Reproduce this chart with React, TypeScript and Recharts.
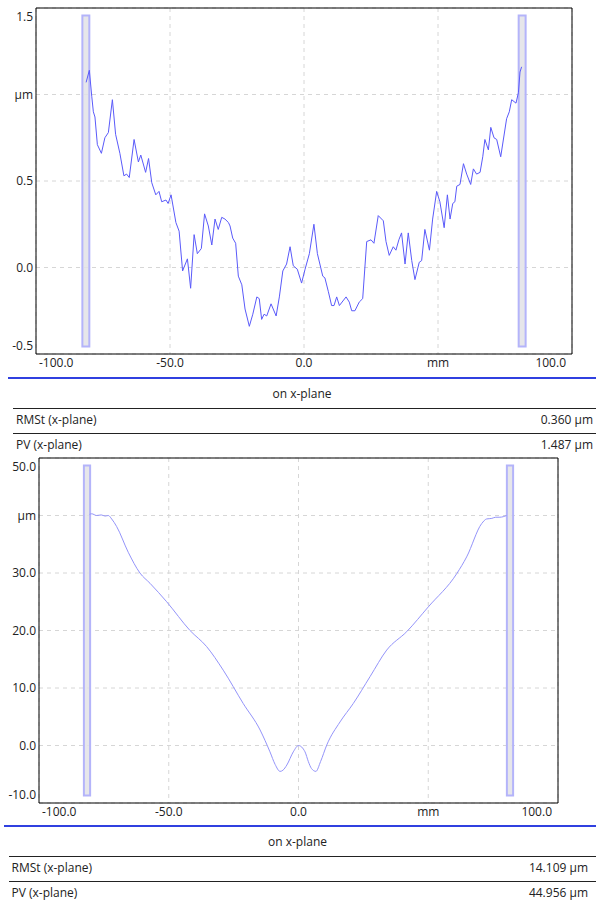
import React from "react";
import {
  LineChart,
  Line,
  XAxis,
  YAxis,
  CartesianGrid,
  ReferenceArea,
} from "recharts";

// Profil 1: straightness (µm)
const posicoes1 = [
  -81.3, -80.1, -79.2, -78.6, -78.0, -77.1, -75.6, -74.3, -73.0, -71.5, -70.3, -68.7, -67.2, -66.2, -65.2,
  -63.4, -61.8, -60.9, -59.1, -58.0, -56.8, -55.3, -54.1, -53.1, -51.5, -50.7, -49.6, -47.8, -46.6, -45.3,
  -43.5, -42.3, -41.0, -39.8, -38.3, -37.1, -35.7, -34.4, -33.2, -32.0, -30.7, -29.5, -28.2, -27.6, -26.6,
  -25.5, -24.5, -23.2, -22.0, -20.4, -19.1, -17.6, -16.7, -15.8, -14.9, -13.9, -12.3, -10.4, -9.2, -7.9,
  -6.5, -5.2, -4.0, -2.5, -0.9, 0.4, 2.0, 3.7, 5.0, 7.0, 7.8, 9.1, 10.3, 11.2, 12.2, 13.2, 15.7, 16.9, 17.8,
  19.0, 20.6, 21.9, 23.4, 25.0, 26.1, 27.7, 29.6, 30.6, 31.8, 33.3, 34.3, 35.4, 36.4, 37.7, 38.9, 40.2,
  41.4, 43.0, 43.9, 45.1, 46.8, 48.0, 49.5, 50.7, 52.3, 53.5, 54.5, 55.5, 56.3, 57.0, 58.2, 59.5, 60.7,
  62.2, 63.2, 64.4, 65.7, 66.7, 67.5, 68.8, 69.7, 70.9, 71.9, 73.4, 74.6, 75.6, 76.6, 77.5, 79.1, 80.0,
  80.6, 81.2,
];
const valores1 = [
  1.07, 1.14, 0.99, 0.9, 0.87, 0.71, 0.66, 0.75, 0.78, 0.97, 0.77, 0.66, 0.53, 0.54, 0.52,
  0.74, 0.61, 0.65, 0.55, 0.63, 0.49, 0.42, 0.44, 0.38, 0.39, 0.37, 0.42, 0.26, 0.21, -0.02,
  0.05, -0.12, 0.19, 0.08, 0.11, 0.31, 0.24, 0.13, 0.28, 0.22, 0.29, 0.28, 0.26, 0.24, 0.17,
  0.14, -0.05, -0.1, -0.24, -0.34, -0.27, -0.17, -0.18, -0.3, -0.27, -0.28, -0.21, -0.28, -0.17, -0.02,
  0.02, 0.12, 0.01, -0.01, -0.09, -0.01, 0.08, 0.25, 0.08, -0.05, -0.06, -0.14, -0.22, -0.22, -0.17, -0.22, -0.17, -0.2, -0.25,
  -0.25, -0.2, -0.18, 0.15, 0.16, 0.14, 0.3, 0.27, 0.15, 0.07, 0.12, 0.1, 0.16, 0.2, 0.02, 0.2, 0.04,
  -0.07, 0.03, 0.04, 0.22, 0.1, 0.28, 0.44, 0.38, 0.23, 0.42, 0.28, 0.37, 0.38, 0.47, 0.48, 0.6, 0.54,
  0.48, 0.57, 0.54, 0.55, 0.64, 0.74, 0.68, 0.81, 0.75, 0.74, 0.64, 0.76, 0.86, 0.9, 0.97, 0.95, 1.01,
  1.13, 1.16,
];

// Profil 2: forma (µm)
const posicoes2 = [
  -80.5, -79.7, -77.8, -76.0, -74.5, -73.3, -72.0, -70.1, -65.6, -61.1, -57.2, -50.8, -41.8, -35.4, -29.0,
  -21.3, -14.8, -11.0, -9.0, -7.1, -6.0, -4.5, -2.0, 0.0, 2.5, 3.8, 5.0, 6.7, 8.5, 10.9, 16.0, 21.1, 27.6,
  34.0, 41.7, 50.0, 61.0, 64.8, 70.6, 72.5, 74.5, 76.0, 77.6, 80.2,
];
const valores2 = [
  40.2, 40.3, 40.0, 40.1, 39.9, 40.0, 39.4, 38.1, 33.6, 30.0, 28.2, 25.0, 20.0, 17.2, 13.1,
  7.3, 2.7, -1.1, -3.3, -4.5, -4.3, -3.4, -1.1, 0.0, -1.1, -2.8, -4.0, -4.5, -2.8, 0.1, 4.1, 7.3, 12.0,
  16.6, 19.8, 24.1, 29.9, 32.8, 38.6, 39.4, 39.5, 39.7, 39.7, 40.0,
];

const ticksX = [-100, -50, 0, 50, 100];
const ticksY1 = [-0.5, 0, 0.5, 1.0, 1.5];
const ticksY2 = [-10, 0, 10, 20, 30, 40, 50];

const resultados1 = [
  { nome: "RMSt (x-plane)", valor: "0.360 µm" },
  { nome: "PV (x-plane)", valor: "1.487 µm" },
];
const resultados2 = [
  { nome: "RMSt (x-plane)", valor: "14.109 µm" },
  { nome: "PV (x-plane)", valor: "44.956 µm" },
];

const FONTE = "'Open Sans', 'Noto Sans', sans-serif";
const TEXTO = "#222";

const tickY = (lado: "left" | "right", min: number, max: number, unidade: number) => (props: any) => {
  const { x, y, payload } = props;
  const v = payload.value;
  let dy = 4.3;
  if (v === max) dy = 12.8;
  if (v === min) dy = -4.2;
  return (
    <text x={x} y={y + dy} textAnchor={lado === "left" ? "end" : "start"} fontFamily={FONTE} fontSize={12} fill={TEXTO}>
      {v === unidade ? "µm" : v.toFixed(1)}
    </text>
  );
};

const tickX = (props: any) => {
  const { x, y, payload } = props;
  const v = payload.value;
  let anchor: "start" | "middle" | "end" = "middle";
  let dx = 0;
  if (v === -100) { anchor = "start"; dx = 3; }
  if (v === 100) { anchor = "end"; dx = -6; }
  return (
    <text x={x + dx} y={y + 13} textAnchor={anchor} fontFamily={FONTE} fontSize={12} fill={TEXTO}>
      {v === 50 ? "mm" : v.toFixed(1)}
    </text>
  );
};

interface GraficoProps {
  xs: number[];
  ys: number[];
  yMin: number;
  yMax: number;
  ticksY: number[];
  unidade: number;
  esquerda: number;
  direita: number;
  altura: number;
  barra: [number, number];
  cor: string;
  tipo: "linear" | "monotone";
}

function Perfil({ xs, ys, yMin, yMax, ticksY, unidade, esquerda, direita, altura, barra, cor, tipo }: GraficoProps) {
  const dados = xs.map((x, i) => ({ x, v: ys[i] }));
  return (
    <LineChart width={596} height={altura} data={dados} margin={{ top: 8, right: 0, bottom: 0, left: 0 }}>
      <CartesianGrid yAxisId="esq" stroke="#d6d6d6" strokeDasharray="4 4" />
      <XAxis
        type="number"
        dataKey="x"
        domain={[-100, 100]}
        ticks={ticksX}
        height={18}
        axisLine={false}
        tickLine={false}
        tickSize={0}
        tickMargin={0}
        tick={tickX}
        interval={0}
      />
      <YAxis
        yAxisId="esq"
        orientation="left"
        width={esquerda}
        domain={[yMin, yMax]}
        ticks={ticksY}
        axisLine={false}
        tickLine={false}
        tickSize={0}
        tickMargin={3}
        tick={tickY("left", yMin, yMax, unidade)}
        interval={0}
      />
      <YAxis
        yAxisId="dir"
        orientation="right"
        width={direita}
        domain={[yMin, yMax]}
        ticks={ticksY}
        axisLine={false}
        tickLine={false}
        tickSize={0}
        tickMargin={3}
        tick={tickY("right", yMin, yMax, unidade)}
        interval={0}
      />
      <Line
        yAxisId="esq"
        type={tipo}
        dataKey="v"
        stroke={cor}
        strokeWidth={1}
        dot={false}
        isAnimationActive={false}
      />
      <ReferenceArea yAxisId="esq" x1={-barra[1]} x2={-barra[0]} y1={yMin + (yMax - yMin) * 0.022} y2={yMax - (yMax - yMin) * 0.022}
        fill="#e2e2e6" fillOpacity={0.85} stroke="#b4b4fa" strokeWidth={2} />
      <ReferenceArea yAxisId="esq" x1={barra[0]} x2={barra[1]} y1={yMin + (yMax - yMin) * 0.022} y2={yMax - (yMax - yMin) * 0.022}
        fill="#e2e2e6" fillOpacity={0.85} stroke="#b4b4fa" strokeWidth={2} />
      <ReferenceArea yAxisId="esq" x1={-100} x2={100} y1={yMin} y2={yMax} fill="none" stroke="#000" strokeWidth={1} />
    </LineChart>
  );
}

function Tabela({ top, deslocamento, fim, linhas }: { top: number; deslocamento: number; fim: number; linhas: { nome: string; valor: string }[] }) {
  return (
    <div style={{ position: "absolute", left: 0, top, width: 596, fontFamily: FONTE, fontSize: 12, color: TEXTO }}>
      <div style={{ position: "absolute", left: 8 - deslocamento, right: 0, top: 0, height: 2, background: "#3040e0" }} />
      <div style={{ position: "absolute", left: 0, width: 604 - 2 * deslocamento, top: 9, lineHeight: "16px", textAlign: "center" }}>
        on x-plane
      </div>
      {linhas.map((l, i) => (
        <React.Fragment key={l.nome}>
          <div style={{ position: "absolute", left: 13 - deslocamento, right: 0, top: 31 + i * 25, height: 1, background: "#222" }} />
          <div style={{ position: "absolute", left: 16 - deslocamento, top: 35 + i * 25, lineHeight: "16px" }}>{l.nome}</div>
          <div style={{ position: "absolute", left: 0, width: fim, top: 35 + i * 25, lineHeight: "16px", textAlign: "right" }}>{l.valor}</div>
        </React.Fragment>
      ))}
    </div>
  );
}

export default function App() {
  return (
    <div style={{ position: "absolute", left: 0, top: 0, width: 596, height: 901, background: "#fff", overflow: "hidden" }}>
      <div style={{ position: "absolute", left: 0, top: 0 }}>
        <Perfil xs={posicoes1} ys={valores1} yMin={-0.5} yMax={1.5} ticksY={ticksY1} unidade={1.0}
          esquerda={36} direita={24} altura={372} barra={[80.1, 82.7]} cor="#5a5afa" tipo="linear" />
      </div>
      <Tabela top={377} deslocamento={0} fim={593} linhas={resultados1} />
      <div style={{ position: "absolute", left: 0, top: 450 }}>
        <Perfil xs={posicoes2} ys={valores2} yMin={-10} yMax={50} ticksY={ticksY2} unidade={40}
          esquerda={39} direita={38} altura={371} barra={[80.3, 82.7]} cor="#9494fa" tipo="monotone" />
      </div>
      <Tabela top={825} deslocamento={4.5} fim={588} linhas={resultados2} />
    </div>
  );
}
